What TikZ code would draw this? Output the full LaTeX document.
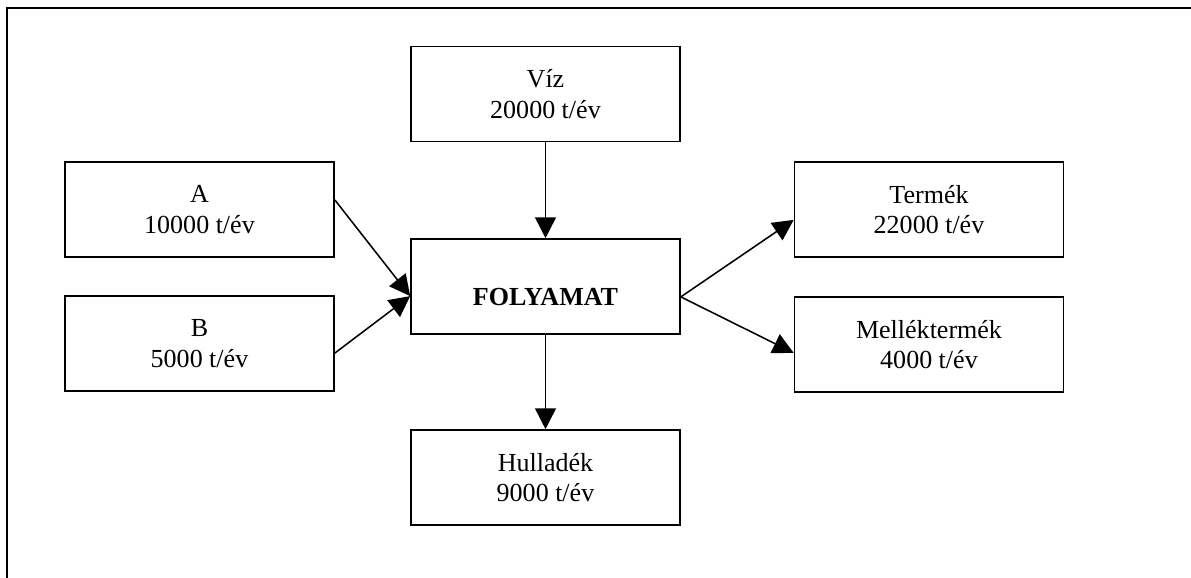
\documentclass[tikz,border=0pt]{standalone}
\usepackage{fontspec}
\setmainfont{Liberation Serif}
\usetikzlibrary{arrows.meta}

\begin{document}
\begin{tikzpicture}[x=0.025cm,y=-0.025cm,
        box/.style={draw, line width=1.1pt, minimum width=6.725cm, minimum height=2.375cm, align=center, font=\fontsize{18.5}{21.6}\selectfont},
        flow/.style={-{Triangle[length=0.52cm,width=0.52cm]}, line width=1.1pt}]
        \useasboundingbox (0,0) rectangle (1191,578);
        \draw[line width=1.6pt] (7,578) -- (7,8) -- (1191,8);

        \node[box] (viz) at (545.5,94) {Víz\\20000 t/év};
        \node[box] (a) at (199.5,209.5) {A\\10000 t/év};
        \node[box] (b) at (199.5,343.5) {B\\5000 t/év};
        \node[box] (folyamat) at (545.5,286.5) {\raisebox{-0.26cm}[\height][\depth]{\bfseries FOLYAMAT}};
        \node[box] (termek) at (929,209.5) {Termék\\22000 t/év};
        \node[box] (mellek) at (929,344.5) {Melléktermék\\4000 t/év};
        \node[box] (hulladek) at (545.5,477.5) {Hulladék\\9000 t/év};

        \draw[flow] (viz.south) -- (folyamat.north);
        \draw[flow] ([yshift=0.24cm]a.east) -- ([yshift=-0.24cm]folyamat.west);
        \draw[flow] ([yshift=-0.24cm]b.east) -- ([yshift=-0.24cm]folyamat.west);
        \draw[flow] ([yshift=-0.26cm]folyamat.east) -- ([yshift=-0.26cm]termek.west);
        \draw[flow] ([yshift=-0.26cm]folyamat.east) -- ([yshift=-0.21cm]mellek.west);
        \draw[flow] (folyamat.south) -- (hulladek.north);
    \end{tikzpicture}
\end{document}
